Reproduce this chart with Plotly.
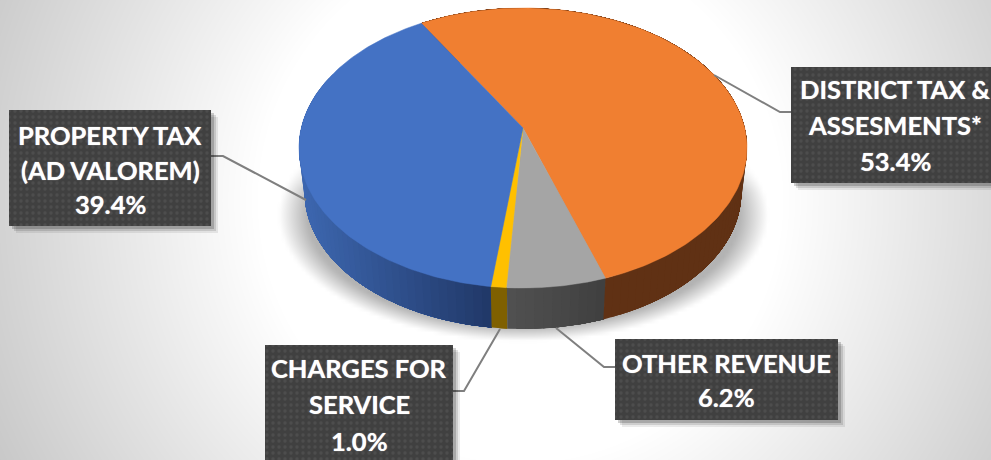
import numpy as np
import plotly.graph_objects as go

# ---- data ----
categories = ["DISTRICT TAX & ASSESMENTS*", "OTHER REVENUE", "CHARGES FOR SERVICE", "PROPERTY TAX (AD VALOREM)"]
values = [53.4, 6.2, 1.0, 39.4]
label_lines = [["DISTRICT TAX &", "ASSESMENTS*"], ["OTHER REVENUE"], ["CHARGES FOR", "SERVICE"], ["PROPERTY TAX", "(AD VALOREM)"]]
top_colors = ["#F07F31", "#A5A5A5", "#FFC000", "#4472C4"]
wall_left = ["#603114", "#505050", "#7F6000", "#3D67B0"]
wall_right = ["#603114", "#3F3F3F", "#7F6000", "#203766"]
first_slice_angle = -31.0

# ---- geometry / style ----
W, H = 991, 460
APEX = (523.0, 128.0)
RX, RY, K = 221.7, 137.14, 1 / 7
DEPTH, BOTTOM_SCALE = 44.5, 0.975
BOX = "#404040"
TXT = dict(family="Lato, 'Open Sans', sans-serif", size=25.5, color="white", weight="bold",
           shadow="0 0 1px rgba(255,255,255,0.8)")

boxes = [(791, 67, 1000, 183), (615, 339, 838, 420), (265, 345, 453, 470), (9, 110, 211, 226)]
leaders = [[(791, 112), (780, 112), (714, 75)], [(615, 367), (604, 367), (556, 328)],
           [(453, 391), (464, 391), (500, 329)], [(211, 156), (223, 156), (306, 200)]]
text_centers = [895, 726, 359, 110]
text_rows = [[89, 125, 161], [363, 397], [368, 404, 441], [135, 170, 204]]


def rim(theta_deg, dy=0.0, scale=1.0):
    t = np.radians(theta_deg)
    u, v = np.sin(t), np.cos(t)
    w = 1 + K * v
    cy = APEX[1] + 20.0
    x = APEX[0] + scale * RX * u / w
    y = cy + scale * (APEX[1] - RY * v / w - cy) + dy
    return x, y


def mix(c1, c2, f):
    a = [int(c1[i:i + 2], 16) for i in (1, 3, 5)]
    b = [int(c2[i:i + 2], 16) for i in (1, 3, 5)]
    return "rgb(%d,%d,%d)" % tuple(round(p + (q - p) * f) for p, q in zip(a, b))


fig = go.Figure()

# background: soft radial gradient plus the pie's blurred shadow
gx = np.linspace(0, W, 249)
gy = np.linspace(0, H, 116)
X, Y = np.meshgrid(gx, gy)
d = np.sqrt((X - 520) ** 2 + (Y - 200) ** 2)
bg = 1 - 0.22 * np.clip((d - 260) / 330, 0, 1)
q = np.sqrt(((X - 523) / 245) ** 2 + ((Y - 215) / 126) ** 2)
sh = 0.30 * np.clip((1 - q) / 0.12, 0, 1) * np.clip((Y - 150) / 40, 0, 1) * np.clip((341 - Y) / 2, 0, 1)
fig.add_trace(go.Heatmap(x=gx, y=gy, z=bg * (1 - sh), zmin=0, zmax=1, zsmooth="best", showscale=False,
                         colorscale=[[0, "#000000"], [1, "#ffffff"]], hoverinfo="skip"))

# slice angles come from the values
total = sum(values)
edges = first_slice_angle + np.cumsum([0] + values) / total * 360

# side walls: painted so each strip overlaps the next, giving a smooth gradient
order = [3, 2, 1, 0]
for i in order:
    a0, a1 = edges[i], edges[i + 1]
    n = max(2, int((a1 - a0) / 2))
    steps = np.linspace(a1, a0, n + 1)  # left to right along the front
    lo, hi = rim(steps)[0].min(), rim(steps)[0].max()
    for j in range(n):
        a = steps[j]
        if np.cos(np.radians(a)) > 0.4 and np.cos(np.radians(steps[j + 1])) > 0.4:
            continue
        th = np.linspace(a, a0, 40)
        x1, y1 = rim(th)
        x2, y2 = rim(th[::-1], DEPTH, BOTTOM_SCALE)
        frac = (rim(a)[0] - lo) / max(hi - lo, 1)
        col = mix(wall_left[i], wall_right[i], frac)
        fig.add_trace(go.Scatter(x=np.r_[x1, x2], y=np.r_[y1, y2], mode="lines", fill="toself",
                                 fillcolor=col, line=dict(width=0), hoverinfo="skip", showlegend=False))

# top surface
for i in range(len(values)):
    th = np.linspace(edges[i], edges[i + 1], 160)
    x, y = rim(th)
    fig.add_trace(go.Scatter(x=np.r_[APEX[0], x, APEX[0]], y=np.r_[APEX[1], y, APEX[1]], mode="lines",
                             fill="toself", fillcolor=top_colors[i], line=dict(color=top_colors[i], width=0.5),
                             name=categories[i], hoverinfo="skip", showlegend=False))

# leader lines
for pts in leaders:
    fig.add_trace(go.Scatter(x=[p[0] for p in pts], y=[p[1] for p in pts], mode="lines",
                             line=dict(color="#7F7F7F", width=2), hoverinfo="skip", showlegend=False))

# label boxes with soft shadow and dotted fill
for (x0, y0, x1, y1) in boxes:
    for off, alpha in ((7, 0.08), (5, 0.12), (3, 0.18)):
        fig.add_trace(go.Scatter(x=[x0 + off, x1 + off, x1 + off, x0 + off, x0 + off],
                                 y=[y0 + off, y0 + off, y1 + off, y1 + off, y0 + off], mode="lines", fill="toself",
                                 fillcolor=f"rgba(0,0,0,{alpha})", line=dict(width=0), hoverinfo="skip", showlegend=False))
    fig.add_trace(go.Scatter(x=[x0, x1, x1, x0, x0], y=[y0, y0, y1, y1, y0], mode="lines", fill="toself",
                             fillcolor=BOX, line=dict(width=0), hoverinfo="skip", showlegend=False,
                             fillpattern=dict(shape=".", size=6, solidity=0.25, bgcolor=BOX, fgcolor="#5A5A5A")))

# label text
for i in range(len(values)):
    rows = label_lines[i] + [f"{values[i]:.1f}%"]
    for txt, yy in zip(rows, text_rows[i]):
        fig.add_annotation(x=text_centers[i], y=yy, text=txt, showarrow=False, font=TXT, xanchor="center", yanchor="middle")

fig.update_layout(width=W, height=H, margin=dict(l=0, r=0, t=0, b=0), paper_bgcolor="white", plot_bgcolor="white",
                  showlegend=False,
                  xaxis=dict(range=[0, W], visible=False, fixedrange=True),
                  yaxis=dict(range=[H, 0], visible=False, fixedrange=True))
fig.write_html("out.html", config=dict(displayModeBar=False),
               post_script="document.body.style.margin='0';document.documentElement.style.overflow='hidden';")
